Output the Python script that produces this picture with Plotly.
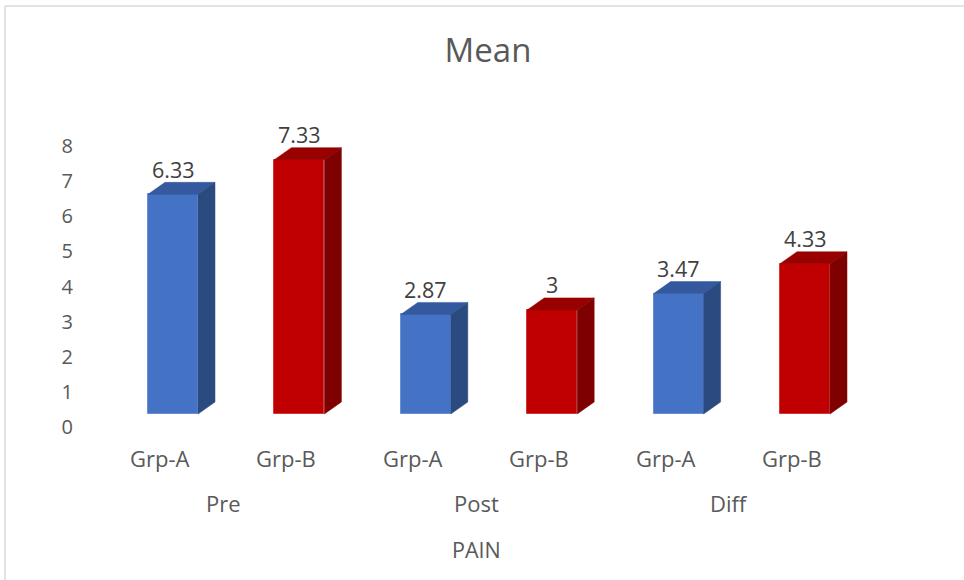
import plotly.graph_objects as go

# ---- data ----
groups = ["Pre", "Post", "Diff"]
series = ["Grp-A", "Grp-B"]
grp_a = [6.33, 2.87, 3.47]
grp_b = [7.33, 3.00, 4.33]
y_ticks = [0, 1, 2, 3, 4, 5, 6, 7, 8]
title_text = "Mean"
axis_title = "PAIN"

# ---- styling ----
FONT = "Open Sans"
front = {"Grp-A": "#4472C4", "Grp-B": "#C00000"}
top_c = {"Grp-A": "#34599E", "Grp-B": "#990000"}
side_c = {"Grp-A": "#2B4A80", "Grp-B": "#7F0000"}
edge_c = {"Grp-A": "#6A8FD4", "Grp-B": "#D23A3A"}
TXT = "#595959"

W, H = 964, 580
ML, MR, MT, MB = 78, 14, 100, 140
plot_w = W - ML - MR
plot_h = H - MT - MB

# pixel scales for the category axis and the two value axes
x_px_per = 126.4          # px between adjacent bars
x0_px = 173 - ML          # first bar centre from left of plot area
bar_w = 50 / x_px_per     # front face width (data units)
depth_x = 17 / x_px_per   # 3-D depth offset (x)

tick_px_per = 35.125      # visible value axis
tick_zero = 427 - MT
bar_px_per = 34.7         # bar value axis (front plane)
bar_zero = 414 - MT
depth_y = 12 / bar_px_per

x_range = [-x0_px / x_px_per, (plot_w - x0_px) / x_px_per]
y_range = [-(plot_h - tick_zero) / tick_px_per, tick_zero / tick_px_per]
y2_range = [-(plot_h - bar_zero) / bar_px_per, bar_zero / bar_px_per]

# flatten into bar positions
pos, vals, cols = [], [], []
for gi, g in enumerate(groups):
    for si, s in enumerate(series):
        pos.append(gi * 2 + si)
        vals.append((grp_a, grp_b)[si][gi])
        cols.append(s)

fig = go.Figure()
# invisible trace so the tick axis is drawn
fig.add_trace(go.Scatter(x=[pos[0]] * len(y_ticks), y=y_ticks, mode="none",
                         hoverinfo="skip", showlegend=False))
fig.add_trace(go.Bar(
    x=pos, y=vals, width=bar_w, yaxis="y2",
    marker=dict(color=[front[c] for c in cols],
                line=dict(color=[edge_c[c] for c in cols], width=1)),
    hoverinfo="skip", showlegend=False,
))

shapes = []
annotations = []
for p, v, c in zip(pos, vals, cols):
    xl, xr = p - bar_w / 2, p + bar_w / 2
    # top face
    shapes.append(dict(
        type="path", xref="x", yref="y2", layer="above",
        path=f"M {xl},{v} L {xl + depth_x},{v + depth_y} L {xr + depth_x},{v + depth_y} L {xr},{v} Z",
        fillcolor=top_c[c], line=dict(color=top_c[c], width=0.5)))
    # side face
    shapes.append(dict(
        type="path", xref="x", yref="y2", layer="above",
        path=f"M {xr},0 L {xr},{v} L {xr + depth_x},{v + depth_y} L {xr + depth_x},{depth_y} Z",
        fillcolor=side_c[c], line=dict(color=side_c[c], width=0.5)))
    # value label
    annotations.append(dict(
        x=p, y=v, xref="x", yref="y2", text=f"{v:g}", showarrow=False,
        yanchor="middle", yshift=25, font=dict(family=FONT, size=21.5, color="#404040")))
    # series label under each bar
    annotations.append(dict(
        x=p, y=0, xref="x", yref="paper", text=c, showarrow=False,
        yanchor="middle", xshift=-13, yshift=-18,
        font=dict(family=FONT, size=22, color=TXT)))

for gi, g in enumerate(groups):
    annotations.append(dict(
        x=gi * 2 + 0.5, y=0, xref="x", yref="paper", text=g, showarrow=False,
        yanchor="middle", xshift=-13, yshift=-63,
        font=dict(family=FONT, size=22, color=TXT)))

annotations.append(dict(
    x=(len(pos) - 1) / 2, y=0, xref="x", yref="paper", text=axis_title, showarrow=False,
    yanchor="middle", xshift=-13, yshift=-109,
    font=dict(family=FONT, size=21.5, color=TXT)))

# chart frame (top and left edges visible)
fx0 = (5 - ML) / plot_w
fy1 = 1 + (MT - 6) / plot_h
shapes.append(dict(type="line", xref="paper", yref="paper",
                   x0=fx0, x1=1 + (MR + 5) / plot_w, y0=fy1, y1=fy1,
                   line=dict(color="#D9D9D9", width=1.5)))
shapes.append(dict(type="line", xref="paper", yref="paper",
                   x0=fx0, x1=fx0, y0=fy1, y1=-(MB + 5) / plot_h,
                   line=dict(color="#D9D9D9", width=1.5)))

fig.update_layout(
    width=W, height=H,
    margin=dict(l=ML, r=MR, t=MT, b=MB),
    paper_bgcolor="white", plot_bgcolor="white",
    title=dict(text=title_text, xref="container", yref="container",
               x=488 / W, y=1 - 50 / H, xanchor="center", yanchor="middle",
               font=dict(family=FONT, size=33, color=TXT)),
    xaxis=dict(range=x_range, showticklabels=False, showgrid=False,
               zeroline=False, showline=False),
    yaxis=dict(range=y_range, tickvals=y_ticks, showgrid=False, zeroline=False,
               showline=False, ticks="", ticklabelstandoff=4,
               tickfont=dict(family=FONT, size=20, color=TXT)),
    yaxis2=dict(range=y2_range, overlaying="y", visible=False),
    shapes=shapes,
    annotations=annotations,
    bargap=0,
)

fig.write_html("out.html")
